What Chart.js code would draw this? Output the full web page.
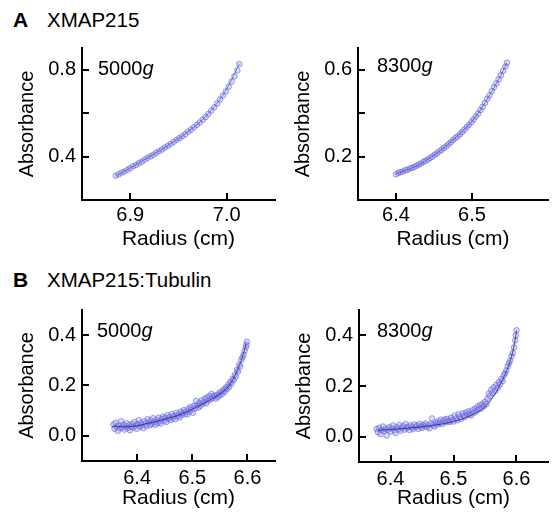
<!DOCTYPE html>
<html>
<head>
<meta charset="utf-8">
<script src="https://cdn.jsdelivr.net/npm/chart.js@4/dist/chart.umd.min.js"></script>
<style>
  body { margin: 0; background: #fff; width: 553px; height: 512px; position: relative; overflow: hidden; font-family: 'Liberation Sans', Arial, sans-serif; }
  canvas { position: absolute; }
  .txt { position: absolute; font-size: 20px; line-height: 20px; color: #000; white-space: nowrap; }
</style>
</head>
<body>
<div class="txt" style="left:13px;top:10px;font-weight:bold;font-size:21px;">A</div>
<div class="txt" style="left:47px;top:10px;font-size:20.5px;">XMAP215</div>
<div class="txt" style="left:13px;top:270px;font-weight:bold;font-size:21px;">B</div>
<div class="txt" style="left:47px;top:270px;font-size:20.5px;">XMAP215:Tubulin</div>

<canvas id="a1" width="280" height="225" style="left:0;top:30px"></canvas>
<canvas id="a2" width="273" height="225" style="left:280px;top:30px"></canvas>
<canvas id="b1" width="280" height="220" style="left:0;top:292px"></canvas>
<canvas id="b2" width="273" height="220" style="left:280px;top:292px"></canvas>

<div class="txt" style="left:98px;top:58px;">5000<i>g</i></div>
<div class="txt" style="left:377px;top:55px;">8300<i>g</i></div>
<div class="txt" style="left:97px;top:320px;">5000<i>g</i></div>
<div class="txt" style="left:377px;top:320px;">8300<i>g</i></div>

<script>
// ---- panel A, 5000g ----
const a1X = [6.885, 6.888, 6.891, 6.894, 6.897, 6.900, 6.903, 6.906, 6.909, 6.912, 6.915, 6.918, 6.921, 6.924, 6.927, 6.930, 6.933, 6.936, 6.939, 6.942, 6.945, 6.948, 6.951, 6.954, 6.957, 6.960, 6.963, 6.966, 6.969, 6.972, 6.975, 6.978, 6.981, 6.984, 6.987, 6.990, 6.993, 6.996, 6.999, 7.002, 7.005, 7.008, 7.011, 7.013];
const a1Y = [0.312, 0.318, 0.326, 0.331, 0.339, 0.347, 0.356, 0.361, 0.370, 0.377, 0.386, 0.394, 0.401, 0.408, 0.417, 0.425, 0.433, 0.442, 0.450, 0.458, 0.468, 0.477, 0.485, 0.494, 0.503, 0.515, 0.524, 0.535, 0.546, 0.557, 0.570, 0.582, 0.596, 0.612, 0.627, 0.644, 0.663, 0.681, 0.700, 0.722, 0.746, 0.770, 0.797, 0.826];
const a1FitX = [6.885, 6.900, 6.915, 6.930, 6.945, 6.960, 6.975, 6.990, 7.000, 7.013];
const a1FitY = [0.310, 0.348, 0.387, 0.426, 0.468, 0.515, 0.571, 0.646, 0.712, 0.826];

// ---- panel A, 8300g ----
const a2X = [6.400, 6.403, 6.406, 6.409, 6.412, 6.415, 6.418, 6.421, 6.424, 6.427, 6.430, 6.433, 6.436, 6.439, 6.442, 6.445, 6.448, 6.451, 6.454, 6.457, 6.460, 6.463, 6.466, 6.469, 6.472, 6.475, 6.478, 6.481, 6.484, 6.487, 6.490, 6.493, 6.496, 6.499, 6.502, 6.505, 6.508, 6.511, 6.514, 6.517, 6.520, 6.523, 6.526, 6.529, 6.532, 6.535, 6.538, 6.541, 6.544, 6.546];
const a2Y = [0.118, 0.125, 0.128, 0.131, 0.137, 0.139, 0.145, 0.148, 0.152, 0.158, 0.163, 0.168, 0.176, 0.180, 0.187, 0.194, 0.200, 0.209, 0.215, 0.224, 0.231, 0.240, 0.247, 0.257, 0.266, 0.276, 0.285, 0.293, 0.303, 0.313, 0.324, 0.336, 0.346, 0.358, 0.371, 0.384, 0.398, 0.414, 0.429, 0.447, 0.466, 0.482, 0.501, 0.520, 0.537, 0.556, 0.575, 0.595, 0.615, 0.632];
const a2FitX = [6.400, 6.415, 6.430, 6.445, 6.460, 6.475, 6.490, 6.505, 6.520, 6.535, 6.546];
const a2FitY = [0.120, 0.140, 0.162, 0.195, 0.232, 0.277, 0.325, 0.385, 0.465, 0.555, 0.632];

// ---- panel B, 5000g ----
const b1X = [6.357, 6.359, 6.361, 6.363, 6.365, 6.367, 6.369, 6.371, 6.373, 6.375, 6.377, 6.379, 6.381, 6.383, 6.385, 6.387, 6.389, 6.391, 6.393, 6.395, 6.397, 6.399, 6.401, 6.403, 6.405, 6.407, 6.409, 6.411, 6.413, 6.415, 6.417, 6.419, 6.421, 6.423, 6.425, 6.427, 6.429, 6.431, 6.433, 6.435, 6.437, 6.439, 6.441, 6.443, 6.445, 6.447, 6.449, 6.451, 6.453, 6.455, 6.457, 6.459, 6.461, 6.463, 6.465, 6.467, 6.469, 6.471, 6.473, 6.475, 6.477, 6.479, 6.481, 6.483, 6.485, 6.487, 6.489, 6.491, 6.493, 6.495, 6.497, 6.499, 6.501, 6.503, 6.505, 6.507, 6.509, 6.511, 6.513, 6.515, 6.517, 6.519, 6.521, 6.523, 6.525, 6.527, 6.529, 6.531, 6.533, 6.535, 6.537, 6.539, 6.541, 6.543, 6.545, 6.547, 6.549, 6.551, 6.553, 6.555, 6.557, 6.559, 6.561, 6.563, 6.565, 6.567, 6.569, 6.571, 6.573, 6.575, 6.577, 6.579, 6.581, 6.583, 6.585, 6.587, 6.589, 6.591, 6.593, 6.595, 6.597, 6.598, 6.599];
const b1Y = [0.045, 0.028, 0.052, 0.036, 0.020, 0.041, 0.030, 0.058, 0.034, 0.044, 0.025, 0.038, 0.050, 0.031, 0.042, 0.022, 0.036, 0.047, 0.033, 0.055, 0.040, 0.028, 0.046, 0.062, 0.037, 0.051, 0.043, 0.031, 0.057, 0.048, 0.039, 0.066, 0.053, 0.042, 0.060, 0.047, 0.070, 0.055, 0.044, 0.063, 0.051, 0.072, 0.058, 0.049, 0.067, 0.076, 0.060, 0.071, 0.055, 0.082, 0.068, 0.075, 0.063, 0.086, 0.072, 0.080, 0.066, 0.091, 0.078, 0.085, 0.073, 0.096, 0.083, 0.090, 0.102, 0.088, 0.097, 0.085, 0.108, 0.096, 0.115, 0.104, 0.092, 0.118, 0.109, 0.138, 0.121, 0.112, 0.130, 0.120, 0.141, 0.128, 0.135, 0.148, 0.129, 0.152, 0.140, 0.158, 0.145, 0.166, 0.150, 0.158, 0.158, 0.148, 0.163, 0.155, 0.170, 0.162, 0.176, 0.168, 0.184, 0.176, 0.192, 0.186, 0.203, 0.195, 0.214, 0.208, 0.226, 0.222, 0.242, 0.236, 0.262, 0.256, 0.283, 0.276, 0.302, 0.312, 0.322, 0.338, 0.352, 0.362, 0.374];
const b1FitX = [6.355, 6.390, 6.420, 6.450, 6.480, 6.510, 6.540, 6.560, 6.570, 6.580, 6.590, 6.598];
const b1FitY = [0.038, 0.037, 0.050, 0.066, 0.086, 0.117, 0.152, 0.183, 0.210, 0.252, 0.308, 0.368];

// ---- panel B, 8300g ----
const b2X = [6.378, 6.380, 6.382, 6.384, 6.386, 6.388, 6.390, 6.392, 6.394, 6.396, 6.398, 6.400, 6.402, 6.404, 6.406, 6.408, 6.410, 6.412, 6.414, 6.416, 6.418, 6.420, 6.422, 6.424, 6.426, 6.428, 6.430, 6.432, 6.434, 6.436, 6.438, 6.440, 6.442, 6.444, 6.446, 6.448, 6.450, 6.452, 6.454, 6.456, 6.458, 6.460, 6.462, 6.464, 6.466, 6.468, 6.470, 6.472, 6.474, 6.476, 6.478, 6.480, 6.482, 6.484, 6.486, 6.488, 6.490, 6.492, 6.494, 6.496, 6.498, 6.500, 6.502, 6.504, 6.506, 6.508, 6.510, 6.512, 6.514, 6.516, 6.518, 6.520, 6.522, 6.524, 6.526, 6.528, 6.530, 6.532, 6.534, 6.536, 6.538, 6.540, 6.542, 6.544, 6.546, 6.548, 6.550, 6.552, 6.554, 6.556, 6.558, 6.560, 6.562, 6.564, 6.566, 6.568, 6.570, 6.572, 6.574, 6.576, 6.578, 6.580, 6.582, 6.584, 6.586, 6.588, 6.590, 6.592, 6.594, 6.596, 6.598, 6.599, 6.600];
const b2Y = [0.030, 0.018, 0.035, 0.010, 0.026, 0.040, 0.022, 0.031, 0.005, 0.028, 0.038, 0.020, 0.033, 0.044, 0.026, 0.015, 0.037, 0.029, 0.046, 0.024, 0.035, 0.041, 0.028, 0.050, 0.034, 0.039, 0.026, 0.045, 0.036, 0.030, 0.048, 0.038, 0.043, 0.031, 0.050, 0.040, 0.035, 0.047, 0.041, 0.052, 0.038, 0.045, 0.033, 0.050, 0.072, 0.046, 0.040, 0.055, 0.048, 0.061, 0.053, 0.067, 0.050, 0.060, 0.068, 0.057, 0.070, 0.062, 0.058, 0.075, 0.066, 0.060, 0.083, 0.072, 0.065, 0.088, 0.076, 0.070, 0.092, 0.082, 0.078, 0.096, 0.086, 0.100, 0.090, 0.084, 0.104, 0.094, 0.110, 0.100, 0.118, 0.108, 0.124, 0.112, 0.130, 0.120, 0.138, 0.128, 0.150, 0.170, 0.160, 0.185, 0.172, 0.195, 0.180, 0.205, 0.192, 0.215, 0.206, 0.228, 0.220, 0.242, 0.250, 0.262, 0.278, 0.290, 0.300, 0.318, 0.330, 0.352, 0.380, 0.400, 0.420];
const b2FitX = [6.380, 6.420, 6.460, 6.500, 6.530, 6.550, 6.565, 6.575, 6.585, 6.592, 6.598, 6.600];
const b2FitY = [0.025, 0.032, 0.042, 0.060, 0.087, 0.118, 0.165, 0.210, 0.265, 0.315, 0.385, 0.420];

// axis ranges and ticks
const a1XRange = [6.85, 7.05], a1YRange = [0.2, 0.9];
const a2XRange = [6.35, 6.6], a2YRange = [0.0, 0.7];
const bXRange1 = [6.3, 6.65], bXRange2 = [6.35, 6.65], bYRange = [-0.1, 0.5];
const a1XTicks = [6.9, 7.0];
const a2XTicks = [6.4, 6.5];
const bXTicks = [6.4, 6.5, 6.6];
const a1YTicks = [0.4, 0.6, 0.8], a1YLabels = ['0.4', '', '0.8'];
const a2YTicks = [0.2, 0.4, 0.6], a2YLabels = ['0.2', '', '0.6'];
const bYTicks = [0.0, 0.2, 0.4], bYLabels = ['0.0', '0.2', '0.4'];

Chart.defaults.color = '#000';
Chart.defaults.font.family = "'Liberation Sans', Arial, sans-serif";

function pts(xs, ys) {
  return xs.map((x, i) => ({x: x, y: ys[i]}));
}

// tick marks point into the plot
const inwardTicks = {
  id: 'inwardTicks',
  afterDatasetsDraw(chart) {
    const {ctx, chartArea, scales} = chart;
    ctx.save();
    ctx.strokeStyle = '#000';
    ctx.lineWidth = 2;
    scales.x.ticks.forEach(t => {
      const px = Math.round(scales.x.getPixelForValue(t.value));
      ctx.beginPath();
      ctx.moveTo(px, chartArea.bottom);
      ctx.lineTo(px, chartArea.bottom - 7);
      ctx.stroke();
    });
    scales.y.ticks.forEach(t => {
      const py = Math.round(scales.y.getPixelForValue(t.value));
      ctx.beginPath();
      ctx.moveTo(chartArea.left, py);
      ctx.lineTo(chartArea.left + 7, py);
      ctx.stroke();
    });
    ctx.restore();
  }
};

function panel(id, p) {
  return new Chart(document.getElementById(id), {
    type: 'scatter',
    data: {
      datasets: [{
        type: 'line',
        data: pts(p.fitX, p.fitY),
        borderColor: p.lineColor,
        borderWidth: 1,
        pointRadius: 0,
        tension: 0.4,
        fill: false
      }, {
        data: pts(p.x, p.y),
        pointRadius: 2.8,
        pointBorderWidth: 1,
        pointBorderColor: 'rgba(95,95,225,0.6)',
        pointBackgroundColor: 'rgba(140,140,235,0.32)'
      }]
    },
    options: {
      responsive: false,
      animation: false,
      events: [],
      layout: {padding: {top: p.top, right: p.right, left: 0, bottom: 0}},
      plugins: {legend: {display: false}, tooltip: {enabled: false}},
      scales: {
        x: {
          type: 'linear',
          min: p.xRange[0],
          max: p.xRange[1],
          afterBuildTicks: s => { s.ticks = p.xTicks.map(v => ({value: v})); },
          afterFit: s => { s.height = p.xH; },
          grid: {display: false, drawTicks: false},
          border: {color: '#000', width: 2},
          ticks: {
            autoSkip: false,
            maxRotation: 0,
            padding: p.xlPad,
            font: {size: 20},
            callback: v => v.toFixed(1)
          },
          title: {display: true, text: 'Radius (cm)', font: {size: 21}, padding: {top: 0, bottom: p.xtPad}}
        },
        y: {
          type: 'linear',
          min: p.yRange[0],
          max: p.yRange[1],
          afterBuildTicks: s => { s.ticks = p.yTicks.map(v => ({value: v})); },
          afterFit: s => { s.width = p.yW; },
          grid: {display: false, drawTicks: false},
          border: {color: '#000', width: 2},
          ticks: {
            autoSkip: false,
            padding: 6,
            font: {size: 20},
            callback: (v, i) => p.yLabels[i]
          },
          title: {display: true, text: 'Absorbance', font: {size: 20}, padding: {top: p.ytPad, bottom: 0}}
        }
      }
    },
    plugins: [inwardTicks]
  });
}

panel('a1', {x: a1X, y: a1Y, fitX: a1FitX, fitY: a1FitY, xRange: a1XRange, yRange: a1YRange, lineColor: 'rgba(60,60,140,0.6)',
  xTicks: a1XTicks, yTicks: a1YTicks, yLabels: a1YLabels, top: 11, right: 4, yW: 82, xH: 55, xlPad: 3, xtPad: 3, ytPad: 15});
panel('a2', {x: a2X, y: a2Y, fitX: a2FitX, fitY: a2FitY, xRange: a2XRange, yRange: a2YRange, lineColor: 'rgba(60,60,140,0.6)',
  xTicks: a2XTicks, yTicks: a2YTicks, yLabels: a2YLabels, top: 11, right: 0, yW: 78, xH: 55, xlPad: 3, xtPad: 3, ytPad: 11.5});
panel('b1', {x: b1X, y: b1Y, fitX: b1FitX, fitY: b1FitY, xRange: bXRange1, yRange: bYRange, lineColor: 'rgba(45,45,100,0.85)',
  xTicks: bXTicks, yTicks: bYTicks, yLabels: bYLabels, top: 13, right: 4, yW: 82, xH: 51, xlPad: 5, xtPad: 1, ytPad: 15});
panel('b2', {x: b2X, y: b2Y, fitX: b2FitX, fitY: b2FitY, xRange: bXRange2, yRange: bYRange, lineColor: 'rgba(45,45,100,0.85)',
  xTicks: bXTicks, yTicks: bYTicks, yLabels: bYLabels, top: 12, right: 0, yW: 79, xH: 50, xlPad: 5, xtPad: 1, ytPad: 12.5});
</script>
</body>
</html>
